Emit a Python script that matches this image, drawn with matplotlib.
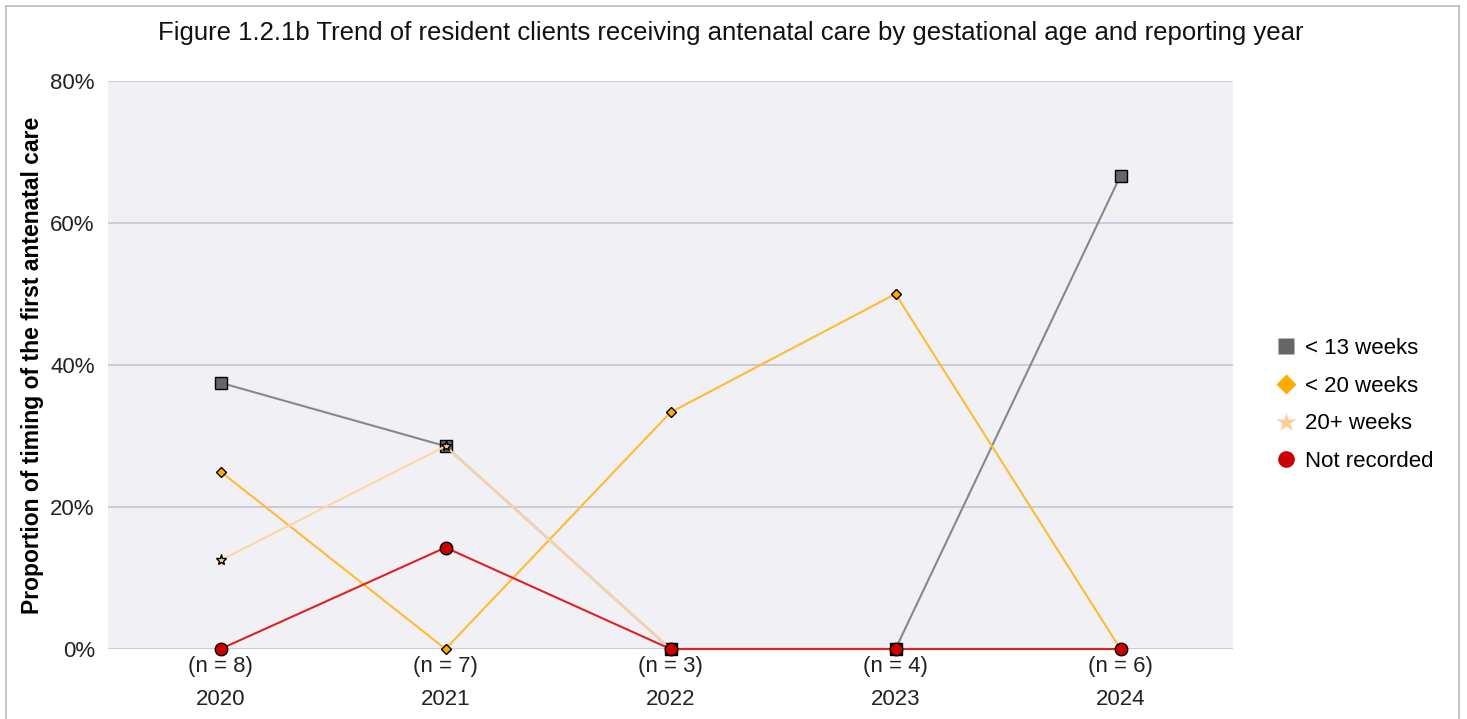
import matplotlib
matplotlib.use("Agg")
import matplotlib.pyplot as plt
from matplotlib.lines import Line2D
from matplotlib.ticker import FuncFormatter

years = ["2020", "2021", "2022", "2023", "2024"]
counts = [8, 7, 3, 4, 6]
series_names = ["< 13 weeks", "< 20 weeks", "20+ weeks", "Not recorded"]
lt13 = [37.5, 28.57, 0, 0, 66.67]
lt20 = [25.0, 0, 33.33, 50.0, 0]
ge20 = [12.5, 28.57, 0, 0, 0]
notrec = [0, 14.29, 0, 0, 0]
title = "Figure 1.2.1b Trend of resident clients receiving antenatal care by gestational age and reporting year"
ylabel = "Proportion of timing of the first antenatal care"

plt.rcParams['font.family'] = ['Liberation Sans', 'DejaVu Sans']

fig = plt.figure(figsize=(14.67, 7.19), dpi=100)
ax = fig.add_axes([108/1467, 1-649/719, (1233-108)/1467, (649-81)/719])
ax.set_facecolor('#f0f0f5')

x = list(range(len(years)))
styles = [
    dict(data=lt13, line='#888888', mfc='#666666', marker='s', ms=8.5),
    dict(data=lt20, line='#ffbb33', mfc='#ffaa00', marker='D', ms=5),
    dict(data=ge20, line='#ffd6aa', mfc='#ffcc99', marker='*', ms=8),
    dict(data=notrec, line='#dd2222', mfc='#cc0000', marker='o', ms=9),
]
for i, s in enumerate(styles):
    ax.plot(x, s['data'], color=s['line'], lw=1.5, marker=s['marker'], ms=s['ms'],
            mfc=s['mfc'], mec='black', mew=1.0, zorder=3 + i, clip_on=False)

ax.set_xlim(-0.5, len(years) - 0.5)
ax.set_ylim(0, 80)
ax.set_yticks([0, 20, 40, 60, 80])
ax.yaxis.set_major_formatter(FuncFormatter(lambda v, p: f"{int(v)}%"))
ax.set_xticks(x)
ax.set_xticklabels([f"(n = {c})\n{y}" for c, y in zip(counts, years)], linespacing=1.75)
ax.grid(axis='y', color='#c4c4d8', lw=1.2, zorder=0)
ax.set_axisbelow(True)
for sp in ax.spines.values():
    sp.set_visible(False)
ax.tick_params(axis='both', length=0, labelsize=16, colors='#222222')
ax.tick_params(axis='x', pad=5)
ax.tick_params(axis='y', pad=9.5)
ax.set_ylabel(ylabel, fontsize=16.5, fontweight='bold')
ax.yaxis.set_label_coords(-0.057, 0.5)

fig.text(731/1467, 1-33/719, title, ha='center', va='center', fontsize=18.5, color='#111111')

handles = [Line2D([], [], ls='none', marker=m, mfc=c, mec='none', ms=ms)
           for m, c, ms in [('s', '#666666', 12), ('D', '#ffaa00', 10), ('*', '#ffcc99', 15), ('o', '#cc0000', 12)]]
leg = fig.legend(handles, series_names, loc='center left', bbox_to_anchor=(1252/1467, 1-405/719),
                 frameon=False, fontsize=16, handletextpad=0.2, labelspacing=0.75, handlelength=1.3)

# outer border
bc = '#bbbbbb'
fig.add_artist(Line2D([6/1467, 1459/1467], [1-6/719, 1-6/719], color=bc, lw=1.2))
fig.add_artist(Line2D([6/1467, 6/1467], [0, 1-6/719], color=bc, lw=1.2))
fig.add_artist(Line2D([1459/1467, 1459/1467], [0, 1-6/719], color=bc, lw=1.2))

fig.savefig("out.png", dpi=100)
